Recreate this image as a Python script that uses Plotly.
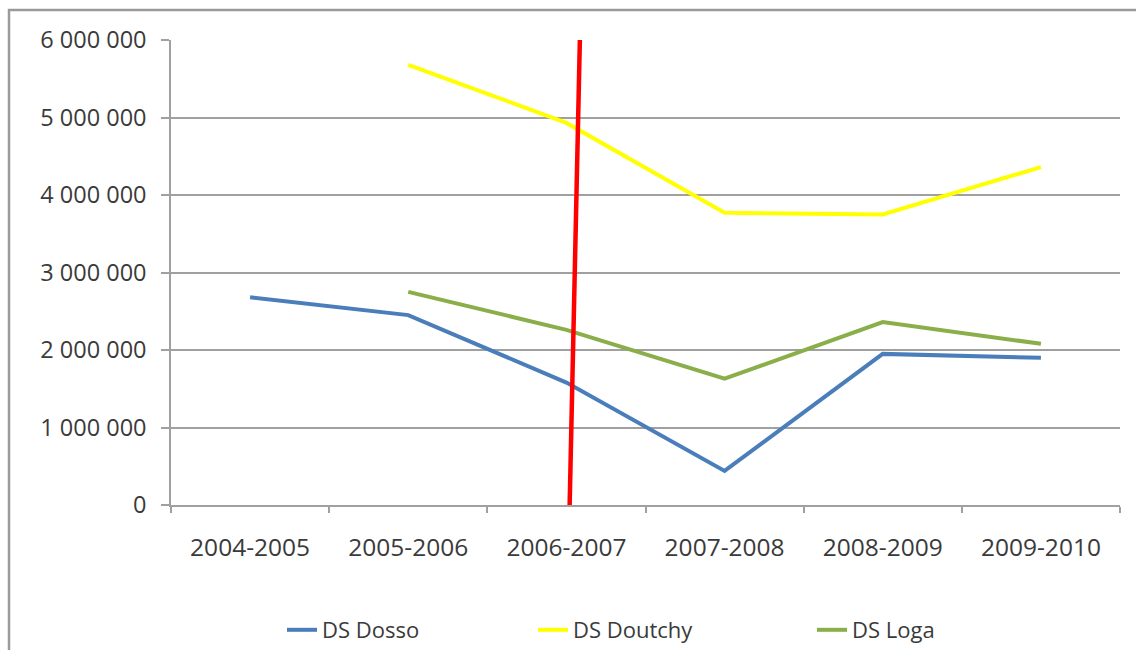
import plotly.graph_objects as go

# Campaign years (categories)
years = ["2004-2005", "2005-2006", "2006-2007", "2007-2008", "2008-2009", "2009-2010"]

# Values per district (None = no data for that year)
ds_dosso = [2680000, 2450000, 1580000, 440000, 1950000, 1900000]
ds_doutchy = [None, 5680000, 4930000, 3770000, 3750000, 4360000]
ds_loga = [None, 2750000, 2260000, 1630000, 2360000, 2080000]

# Y-axis ticks and labels (space as thousands separator)
y_ticks = [0, 1000000, 2000000, 3000000, 4000000, 5000000, 6000000]
y_labels = ["0", "1 000 000", "2 000 000", "3 000 000", "4 000 000", "5 000 000", "6 000 000"]

# Red separator line drawn by hand across the 2006-2007 category (category index units)
separator_x = [2.02, 2.085]
separator_y = [-40000, 6000000]

FONT = "Open Sans"
TEXT = "#3a3a3a"
GRID = "#a0a0a0"

PLOT_L, PLOT_R = 171, 1120
PLOT_T, PLOT_B = 40, 505


def px_to_paper_x(px):
    return (px - PLOT_L) / (PLOT_R - PLOT_L)


def px_to_paper_y(py):
    return (PLOT_B - py) / (PLOT_B - PLOT_T)


fig = go.Figure()
fig.add_trace(go.Scatter(x=years, y=ds_dosso, name="DS Dosso", mode="lines",
                         line=dict(color="#4A7EBB", width=4), legend="legend"))
fig.add_trace(go.Scatter(x=years, y=ds_doutchy, name="DS Doutchy", mode="lines",
                         line=dict(color="#FFFF00", width=4), legend="legend2"))
fig.add_trace(go.Scatter(x=years, y=ds_loga, name="DS Loga", mode="lines",
                         line=dict(color="#8AAE4A", width=4), legend="legend3"))
fig.add_trace(go.Scatter(x=separator_x, y=separator_y, mode="lines", xaxis="x2",
                         line=dict(color="#FF0000", width=4.5), showlegend=False,
                         hoverinfo="skip"))

legend_font = dict(family=FONT, size=22, color=TEXT)


def legend_at(px):
    return dict(orientation="h", x=px_to_paper_x(px), xanchor="left",
                y=px_to_paper_y(630), yanchor="middle", font=legend_font,
                bgcolor="rgba(0,0,0,0)")


fig.update_layout(
    width=1136, height=650,
    margin=dict(l=PLOT_L, r=1136 - PLOT_R, t=PLOT_T, b=650 - PLOT_B, autoexpand=False),
    paper_bgcolor="white", plot_bgcolor="white",
    font=dict(family=FONT, size=16, color=TEXT),
    showlegend=True,
    legend=legend_at(282),
    legend2=legend_at(533),
    legend3=legend_at(812),
    xaxis=dict(type="category", categoryorder="array", categoryarray=years,
               range=[-0.5, 5.5], showgrid=False, showline=True, linecolor=GRID,
               linewidth=1.5, ticks="outside", ticklen=6, tickcolor=GRID,
               tickwidth=1.5, tickson="boundaries", ticklabelstandoff=20,
               tickfont=dict(family=FONT, size=24.5, color=TEXT), zeroline=False,
               automargin=False),
    xaxis2=dict(overlaying="x", range=[-0.5, 5.5], visible=False),
    yaxis=dict(range=[0, 6000000], tickvals=y_ticks, ticktext=y_labels,
               showgrid=True, gridcolor=GRID, gridwidth=1.5, showline=True,
               linecolor=GRID, linewidth=1.5, ticks="outside", ticklen=8,
               tickcolor=GRID, tickwidth=1.5, ticklabelstandoff=10,
               tickfont=dict(family=FONT, size=23.5, color=TEXT), zeroline=False,
               automargin=False),
    shapes=[dict(type="rect", xref="paper", yref="paper",
                 x0=px_to_paper_x(9), x1=px_to_paper_x(1200),
                 y0=px_to_paper_y(700), y1=px_to_paper_y(10),
                 line=dict(color="#9a9a9a", width=2.5), layer="below")],
)

fig.write_html("out.html")
